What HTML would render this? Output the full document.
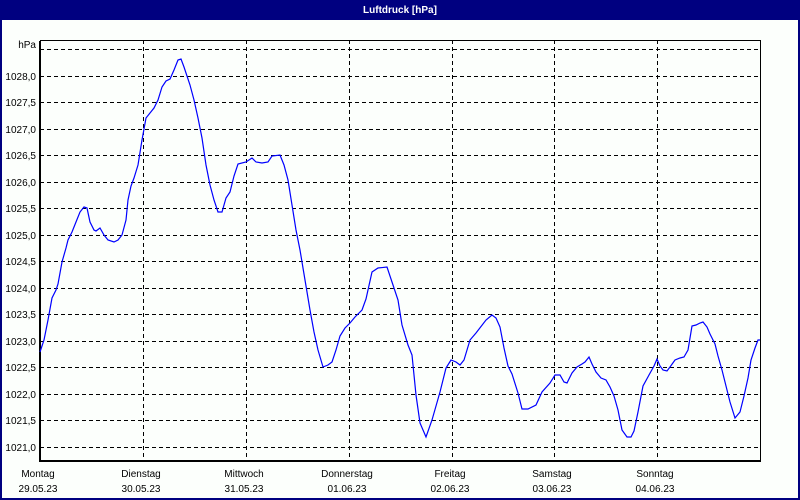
<!DOCTYPE html>
<html><head><meta charset="utf-8"><style>
html,body{margin:0;padding:0;width:800px;height:500px;overflow:hidden;background:#fcfffc;}
svg text{font-family:"Liberation Sans",sans-serif;font-size:10px;fill:#000;}
</style></head><body>
<svg width="800" height="500" xmlns="http://www.w3.org/2000/svg">
<rect x="0" y="0" width="800" height="500" fill="#000080"/>
<rect x="2" y="20" width="796" height="478" fill="#fcfffc"/>
<text x="400" y="13" text-anchor="middle" style="fill:#fff;font-weight:bold;font-size:10px">Luftdruck [hPa]</text>
<g stroke="#000" stroke-width="1" stroke-dasharray="4,3" fill="none">
<line x1="40" y1="49.5" x2="760" y2="49.5"/>
<line x1="40" y1="76.5" x2="760" y2="76.5"/>
<line x1="40" y1="102.5" x2="760" y2="102.5"/>
<line x1="40" y1="129.5" x2="760" y2="129.5"/>
<line x1="40" y1="155.5" x2="760" y2="155.5"/>
<line x1="40" y1="182.5" x2="760" y2="182.5"/>
<line x1="40" y1="208.5" x2="760" y2="208.5"/>
<line x1="40" y1="235.5" x2="760" y2="235.5"/>
<line x1="40" y1="261.5" x2="760" y2="261.5"/>
<line x1="40" y1="288.5" x2="760" y2="288.5"/>
<line x1="40" y1="314.5" x2="760" y2="314.5"/>
<line x1="40" y1="341.5" x2="760" y2="341.5"/>
<line x1="40" y1="367.5" x2="760" y2="367.5"/>
<line x1="40" y1="394.5" x2="760" y2="394.5"/>
<line x1="40" y1="420.5" x2="760" y2="420.5"/>
<line x1="40" y1="447.5" x2="760" y2="447.5"/>
<line x1="143.5" y1="40" x2="143.5" y2="461"/>
<line x1="246.5" y1="40" x2="246.5" y2="461"/>
<line x1="349.5" y1="40" x2="349.5" y2="461"/>
<line x1="452.5" y1="40" x2="452.5" y2="461"/>
<line x1="554.5" y1="40" x2="554.5" y2="461"/>
<line x1="657.5" y1="40" x2="657.5" y2="461"/>
</g>
<rect x="40.5" y="40.5" width="720" height="421" fill="none" stroke="#000" stroke-width="1"/>
<line x1="40" y1="41" x2="40" y2="462" stroke="#000" stroke-width="2"/>
<line x1="40" y1="461" x2="760" y2="461" stroke="#000" stroke-width="2"/>
<g text-anchor="end">
<text x="36" y="48">hPa</text>
<text x="36" y="80">1028,0</text>
<text x="36" y="106">1027,5</text>
<text x="36" y="133">1027,0</text>
<text x="36" y="159">1026,5</text>
<text x="36" y="186">1026,0</text>
<text x="36" y="212">1025,5</text>
<text x="36" y="239">1025,0</text>
<text x="36" y="265">1024,5</text>
<text x="36" y="292">1024,0</text>
<text x="36" y="318">1023,5</text>
<text x="36" y="345">1023,0</text>
<text x="36" y="371">1022,5</text>
<text x="36" y="398">1022,0</text>
<text x="36" y="424">1021,5</text>
<text x="36" y="451">1021,0</text>
</g>
<g text-anchor="middle">
<text x="38" y="477">Montag</text><text x="38" y="492">29.05.23</text>
<text x="141" y="477">Dienstag</text><text x="141" y="492">30.05.23</text>
<text x="244" y="477">Mittwoch</text><text x="244" y="492">31.05.23</text>
<text x="347" y="477">Donnerstag</text><text x="347" y="492">01.06.23</text>
<text x="450" y="477">Freitag</text><text x="450" y="492">02.06.23</text>
<text x="552" y="477">Samstag</text><text x="552" y="492">03.06.23</text>
<text x="655" y="477">Sonntag</text><text x="655" y="492">04.06.23</text>
</g>
<polyline fill="none" stroke="#0000ff" stroke-width="1.2" points="40,352 44,340 48,320 52,298 56,290 58,284 62,262 66,248 68,240 72,232 76,222 80,212 84,207 87,208 90,222 94,230 96,231 100,228 104,235 108,240 114,242 118,240 122,235 126,220 128,200 131,186 134,178 138,165 142,140 146,118 150,113 154,108 158,100 162,87 166,81 170,79 174,70 178,60 181,59 184,67 190,85 194,100 198,118 202,138 206,165 210,185 214,200 218,212 222,212 226,198 230,192 234,176 238,164 246,162 252,158 256,162 262,163 268,162 272,156 280,155 284,165 288,180 292,205 296,230 300,250 305,280 310,310 314,332 318,350 323,367 328,365 332,362 336,350 340,336 345,328 350,323 355,317 362,310 366,299 372,272 378,268 387,267 392,282 398,300 402,325 408,345 412,355 416,395 420,423 426,437 432,420 440,392 446,368 451,360 456,362 460,365 464,360 470,340 476,333 486,320 492,315 496,318 500,327 504,348 508,366 512,374 518,393 522,409 528,409 536,405 542,392 550,383 555,375 560,375 564,382 567,383 572,373 577,367 582,364 585,362 589,357 592,364 596,372 601,378 606,380 610,387 614,396 618,410 622,430 627,437 631,437 634,431 638,412 643,386 649,375 654,366 657,359 660,366 663,370 667,371 670,367 675,360 680,358 684,357 688,350 692,326 696,325 700,323 703,322 707,327 710,334 715,344 718,356 722,370 726,386 730,402 735,418 740,412 744,396 748,378 751,360 755,348 758,340 760,340"/>
</svg>
</body></html>
